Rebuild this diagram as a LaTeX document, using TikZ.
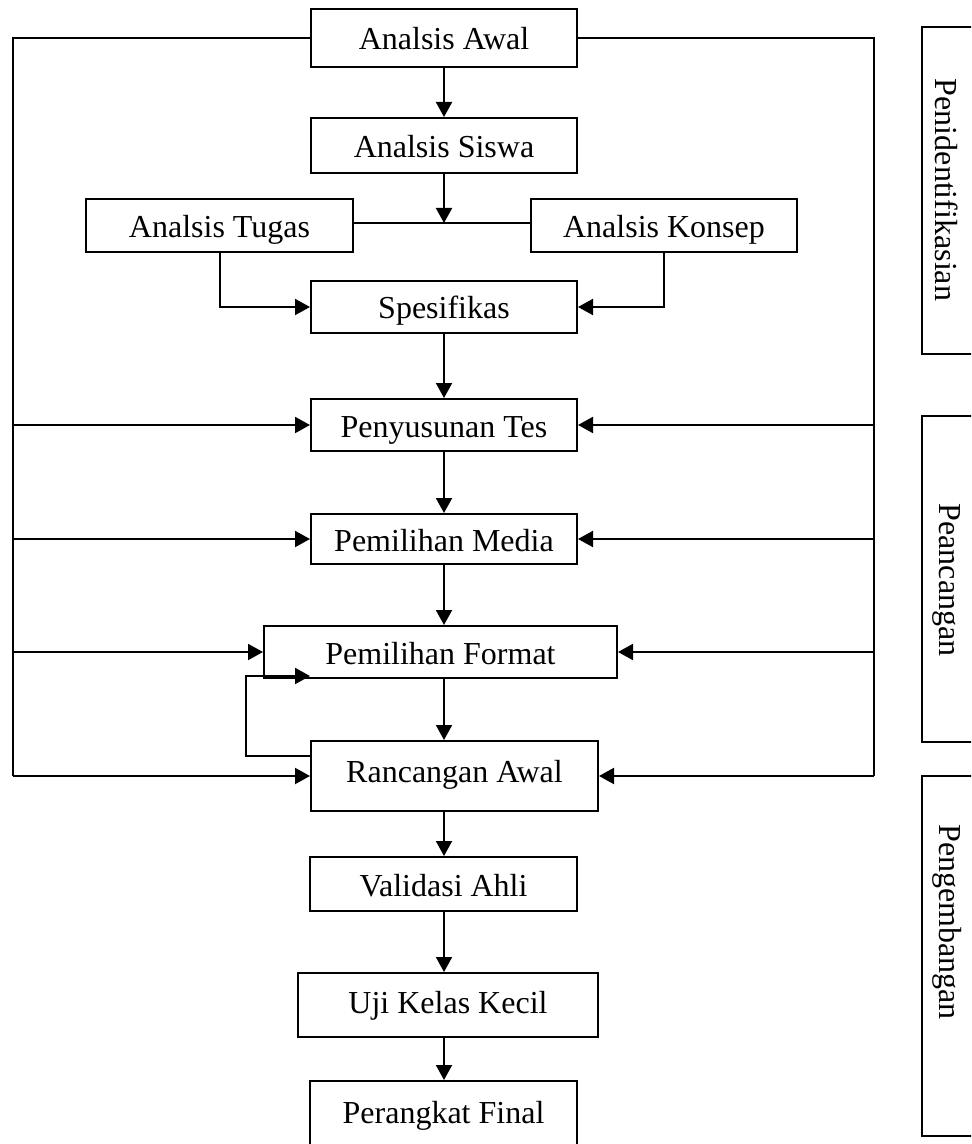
\documentclass[tikz,border=0pt]{standalone}
\usepackage{fontspec}
\setmainfont{Liberation Serif}
\usetikzlibrary{arrows.meta}
\begin{document}
\begin{tikzpicture}[x=0.5pt,y=-0.5pt,
  box/.style={draw,line width=1pt,inner sep=0pt,font=\fontsize{16}{19}\selectfont,text height=12pt,text depth=0pt},
  arr/.style={line width=1pt,-{Triangle[length=7.5pt,width=8pt]}},
  ln/.style={line width=1pt},
  phase/.style={draw,line width=1pt,inner sep=0pt,minimum width=26pt},
  phasetext/.style={rotate=-90,font=\fontsize{16}{19}\selectfont,inner sep=0pt}]
\useasboundingbox (0,0) rectangle (971,1144);
\clip (0,0) rectangle (971,1144);
% process boxes
\node[box,minimum width=133pt,minimum height=29pt] (awal) at (444,38) {Analsis Awal};
\node[box,minimum width=133pt,minimum height=27.5pt] (siswa) at (444,145.5) {Analsis Siswa};
\node[box,minimum width=133.5pt,minimum height=26.5pt] (tugas) at (219.5,225.5) {Analsis Tugas};
\node[box,minimum width=133pt,minimum height=26.5pt] (konsep) at (664,225.5) {Analsis Konsep};
\node[box,minimum width=133pt,minimum height=26pt] (spes) at (444,307) {Spesifikas};
\node[box,minimum width=133pt,minimum height=26pt] (tes) at (444,425) {Penyusunan Tes};
\node[box,minimum width=133pt,minimum height=25pt] (media) at (444,539) {Pemilihan Media};
\node[box,minimum width=176.5pt,minimum height=26pt] (format) at (440.5,652) {Pemilihan Format};
\node[box,minimum width=143.5pt,minimum height=35pt,text height=6pt] (ranc) at (454.5,776) {Rancangan Awal};
\node[box,minimum width=133.5pt,minimum height=27pt] (valid) at (443.5,884) {Validasi Ahli};
\node[box,minimum width=150pt,minimum height=32pt,text height=8pt] (uji) at (448,1005) {Uji Kelas Kecil};
\node[box,minimum width=133.5pt,minimum height=32pt,text height=10pt] (final) at (443.5,1113) {Perangkat Final};
% phase boxes
\node[phase,minimum height=163.5pt] (pid) at (948,190.5) {};
\node[phasetext] (tpid) at (947,190) {Penidentifikasian};
\node[phase,minimum height=163pt] (pran) at (948,579) {};
\node[phasetext] (tpran) at (947,580) {Peancangan};
\node[phase,minimum height=180pt] (pgb) at (948,956) {};
\node[phasetext] (tpgb) at (947,922) {Pengembangan};
% helper coordinates
\coordinate (L) at (13,0);
\coordinate (R) at (874,0);
\coordinate (S) at (444,0);
\coordinate (m) at (444,223);
\coordinate (lp1) at (246,756);
\coordinate (lp2) at (310,676);
% frame lines
\draw[ln] (awal.west) -- (L |- awal.west) -- (L |- ranc.west);
\draw[ln] (awal.east) -- (R |- awal.east) -- (R |- ranc.east);
% main flow
\draw[arr] (awal.south) -- (siswa.north);
\draw[arr] (siswa.south) -- (m);
\draw[ln] (tugas.east |- m) -- (konsep.west |- m);
\draw[arr] (tugas.south) |- (spes.west);
\draw[arr] (konsep.south) |- (spes.east);
\draw[arr] (spes.south) -- (tes.north);
\draw[arr] (tes.south) -- (media.north);
\draw[arr] (media.south) -- (S |- format.north);
\draw[arr] (S |- format.south) -- (S |- ranc.north);
\draw[arr] (S |- ranc.south) -- (S |- valid.north);
\draw[arr] (S |- valid.south) -- (S |- uji.north);
\draw[arr] (S |- uji.south) -- (S |- final.north);
% side arrows
\foreach \n in {tes,media,format,ranc}{
  \draw[arr] (L |- \n.west) -- (\n.west);
  \draw[arr] (R |- \n.east) -- (\n.east);
}
% loop back
\draw[arr] (ranc.west |- lp1) -- (lp1) |- (lp2);
\end{tikzpicture}
\end{document}
